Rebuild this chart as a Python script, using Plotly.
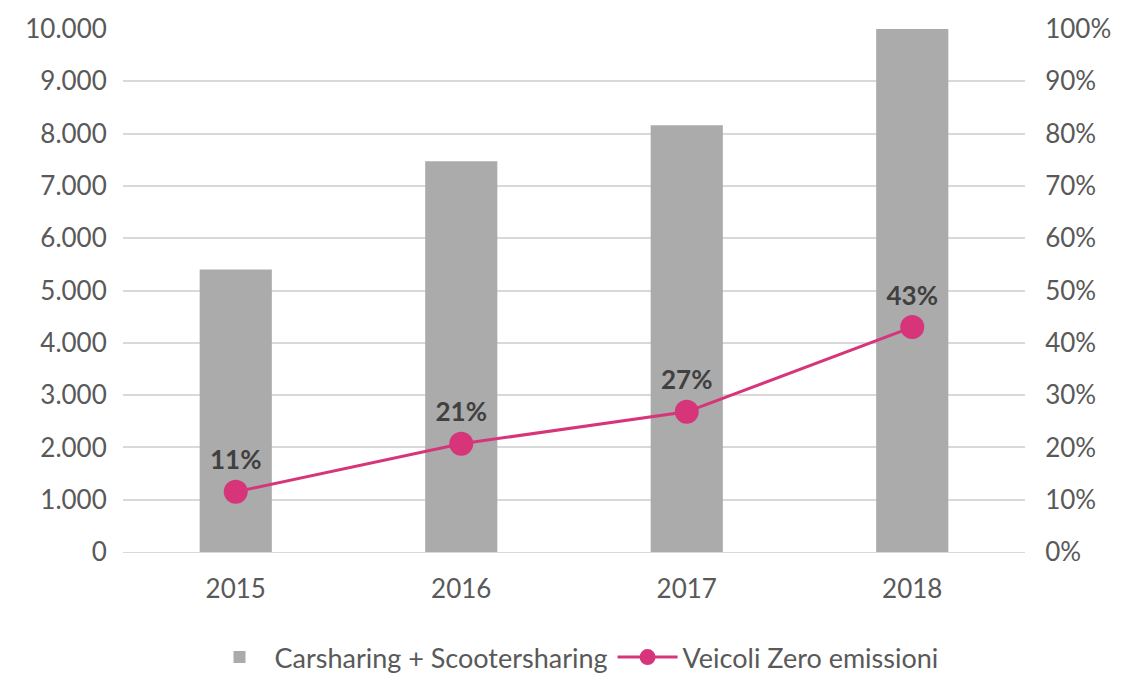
import plotly.graph_objects as go

years = ["2015", "2016", "2017", "2018"]
sharing = [5400, 7470, 8160, 10000]
zero_em = [0.115, 0.207, 0.268, 0.43]
zero_labels = ["11%", "21%", "27%", "43%"]

left_ticks = list(range(0, 10001, 1000))
left_text = [f"{v:,}".replace(",", ".") for v in left_ticks]
right_ticks = [i / 10 for i in range(11)]
right_text = [f"{i*10}%" for i in range(11)]

FONT = "Lato, Open Sans, sans-serif"

fig = go.Figure()
fig.add_trace(go.Bar(
    x=years, y=sharing, name="Carsharing + Scootersharing",
    marker=dict(color="#ABABAB", line=dict(width=0)),
))
fig.add_trace(go.Scatter(
    x=years, y=zero_em, name="Veicoli Zero emissioni", yaxis="y2",
    mode="lines+markers+text",
    line=dict(color="#D6357A", width=3),
    marker=dict(color="#D6357A", size=24),
    text=zero_labels, textposition="top center",
    textfont=dict(family=FONT, size=26, color="#404040", weight="bold"),
))

fig.update_layout(
    width=1117, height=665,
    margin=dict(l=115, r=100, t=21, b=121, autoexpand=False),
    plot_bgcolor="white", paper_bgcolor="white",
    font=dict(family=FONT, size=26, color="#595959"),
    bargap=0.68,
    showlegend=True,
    legend=dict(orientation="h", x=0.5, xanchor="center", y=-0.155, yanchor="top",
                font=dict(size=27, color="#595959"), itemwidth=60, tracegroupgap=0),
    xaxis=dict(showline=True, linecolor="#D9D9D9", linewidth=1, ticks="outside",
               ticklen=14, tickcolor="rgba(0,0,0,0)", automargin=False),
    yaxis=dict(range=[0, 10000], tickvals=left_ticks, ticktext=left_text,
               showgrid=True, gridcolor="#D9D9D9", gridwidth=1.5, zeroline=False,
               ticks="outside", ticklen=10, tickcolor="rgba(0,0,0,0)", automargin=False),
    yaxis2=dict(range=[0, 1], tickvals=right_ticks, ticktext=right_text,
                overlaying="y", side="right", showgrid=False, zeroline=False,
                ticks="outside", ticklen=14, tickcolor="rgba(0,0,0,0)", automargin=False),
)

fig.write_html("out.html")
